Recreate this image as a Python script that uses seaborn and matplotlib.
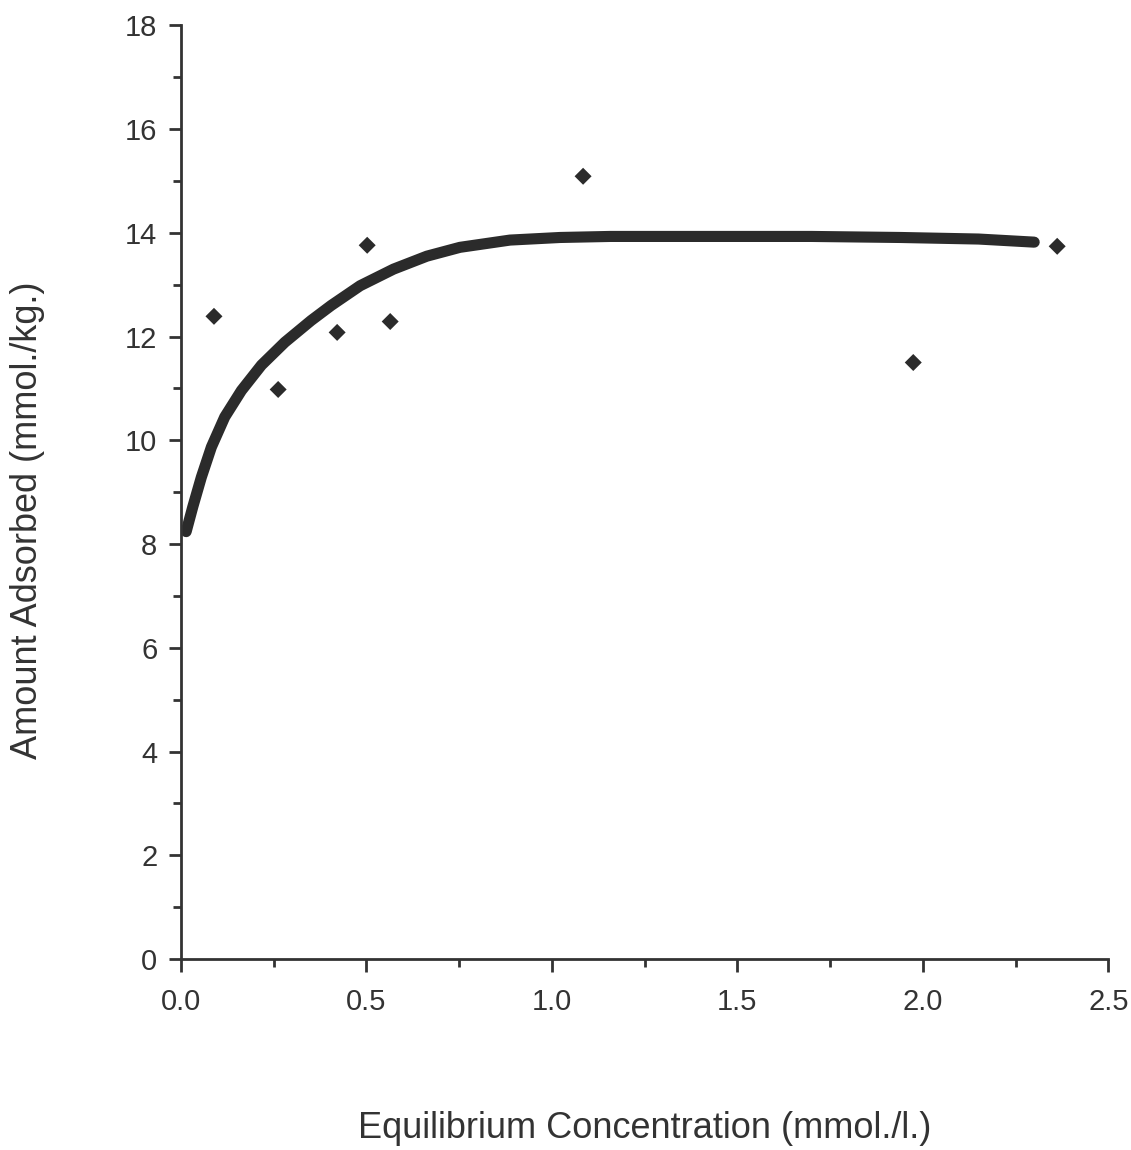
import numpy as np
import pandas as pd
import matplotlib
matplotlib.use('Agg')
import matplotlib.pyplot as plt
from matplotlib.ticker import MultipleLocator
import seaborn as sns

# measured points
conc = [0.089, 0.262, 0.421, 0.502, 0.564, 1.084, 1.974, 2.362]
adsorbed = [12.39, 10.98, 12.08, 13.76, 12.29, 15.09, 11.50, 13.74]

# fitted curve
curve_x = [0.014, 0.032, 0.055, 0.082, 0.118, 0.163, 0.217, 0.280, 0.351,
           0.405, 0.483, 0.573, 0.663, 0.752, 0.887, 1.022, 1.157, 1.40,
           1.70, 1.94, 2.15, 2.30]
curve_y = [8.24, 8.72, 9.29, 9.87, 10.45, 10.96, 11.45, 11.89, 12.31,
           12.60, 12.98, 13.30, 13.55, 13.72, 13.86, 13.91, 13.93, 13.93,
           13.93, 13.91, 13.88, 13.82]

pts = pd.DataFrame({'conc': conc, 'ads': adsorbed})
fit = pd.DataFrame({'conc': curve_x, 'ads': curve_y})

sns.set_style('ticks')
plt.rcParams['font.family'] = ['Liberation Sans', 'DejaVu Sans']

fig = plt.figure(figsize=(11.31, 11.5), dpi=100)
ax = fig.add_axes([0.160, 0.166, 0.820, 0.812])

sns.lineplot(x='conc', y='ads', data=fit, ax=ax, color='#2b2b2b',
             linewidth=8, solid_capstyle='round', solid_joinstyle='round',
             sort=False)
sns.scatterplot(x='conc', y='ads', data=pts, ax=ax, marker='D', s=75,
                color='#2b2b2b', edgecolor='none', zorder=3)

ax.set_xlim(0, 2.5)
ax.set_ylim(0, 18)
ax.xaxis.set_major_locator(MultipleLocator(0.5))
ax.xaxis.set_minor_locator(MultipleLocator(0.25))
ax.yaxis.set_major_locator(MultipleLocator(2))
ax.yaxis.set_minor_locator(MultipleLocator(1))
ax.set_xticklabels([f'{v:.1f}' for v in ax.get_xticks()])

sns.despine(ax=ax)
for s in ['left', 'bottom']:
    ax.spines[s].set_linewidth(2)
    ax.spines[s].set_color('#333333')

ax.tick_params(axis='both', which='major', length=9, width=2, color='#333333',
               labelsize=21, labelcolor='#333333')
ax.tick_params(axis='both', which='minor', length=6, width=2, color='#333333')
ax.tick_params(axis='x', which='major', pad=12)
ax.tick_params(axis='y', which='major', pad=8)

ax.set_xlabel('Equilibrium Concentration (mmol./l.)', fontsize=26,
              color='#333333', labelpad=68)
ax.set_ylabel('Amount Adsorbed (mmol./kg.)', fontsize=26, color='#333333')
ax.yaxis.set_label_coords(-0.147, 0.47)

fig.savefig('out.png', dpi=100, facecolor='white')
